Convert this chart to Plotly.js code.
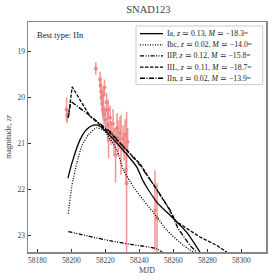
<!DOCTYPE html>
<html><head><meta charset="utf-8">
<script src="https://cdn.plot.ly/plotly-3.0.1.min.js"></script>
<style>html,body{margin:0;padding:0;background:#fff}#chart{width:280px;height:280px}</style>
</head><body><div id="chart"></div>
<script>
// Observations (MJD, zr magnitude, error)
const obsMJD = [58197.2,58197.5,58214.4,58216.9,58217.2,58217.5,58217.8,58218.1,58218.6,58218.9,58219.2,58219.5,58220.1,58220.7,58221.3,58221.6,58221.9,58222.8,58223.4,58224.5,58225.1,58226.0,58226.9,58227.5,58228.6,58229.2,58230.4,58231.0,58231.6,58232.2,58232.5,58233.1,58249.2,58250.4];
const obsMag = [20.27,20.40,19.38,19.62,19.75,19.88,20.01,20.14,20.27,19.95,20.38,19.79,20.49,20.12,20.60,20.27,20.93,20.45,20.78,20.58,20.97,21.26,20.67,20.89,20.78,21.04,20.91,21.08,20.82,21.58,21.87,20.97,22.46,22.63];
const obsErr = [0.26,0.17,0.13,0.17,0.17,0.19,0.19,0.21,0.21,0.17,0.21,0.17,0.26,0.21,0.30,0.21,0.40,0.26,0.26,0.32,0.30,0.60,0.32,0.38,0.34,0.65,0.30,0.30,0.34,0.32,1.55,0.30,0.87,0.76];

// Model curves
const iaMJD  = [58198.0,58200.2,58205.1,58209.1,58213.0,58216.9,58222.8,58230.4,58238.5,58242.2,58250.2,58259.8,58267.9,58275.7];
const iaMag  = [21.76,21.45,20.93,20.70,20.61,20.63,20.84,21.15,21.52,21.82,22.28,22.63,22.94,23.37];
const ibcMJD = [58198.2,58200.2,58203.2,58206.1,58210.0,58214.9,58219.2,58226.7,58230.6,58236.5,58242.4,58250.2,58256.1,58265.9,58271.8];
const ibcMag = [22.53,21.95,21.44,21.07,20.82,20.67,20.73,21.15,21.58,21.95,22.24,22.60,22.89,23.22,23.37];
const iipMJD = [58198.2,58210.0,58222.8,58235.0,58250.0,58253.5];
const iipMag = [22.92,23.02,23.12,23.20,23.29,23.37];
const iilMJD = [58198.2,58200.5,58211.0,58222.8,58240.4,58250.2,58256.1,58261.6,58275.7,58285.5,58291.4];
const iilMag = [20.45,19.78,20.42,20.78,21.45,22.00,22.35,22.70,23.04,23.22,23.37];
const iinMJD = [58198.2,58199.6,58210.0,58222.8,58240.4,58250.2,58258.0,58262.7,58269.7,58273.8];
const iinMag = [20.45,20.09,20.38,20.75,21.48,22.00,22.45,22.85,23.22,23.37];

// Tick labels
const xTickVals = [58180,58200,58220,58240,58260,58280,58300];
const xTickText = ['58180','58200','58220','58240','58260','58280','58300'];
const yTickVals = [19,20,21,22,23];
const yTickText = ['19','20','21','22','23'];

// Legend labels and line styles
const legendNames = [
  'Ia, <i>z</i> ≃ 0.13, <i>M</i> ≃ −18.3ᵐ',
  'Ibc, <i>z</i> ≃ 0.02, <i>M</i> ≃ −14.0ᵐ',
  'IIP, <i>z</i> ≃ 0.12, <i>M</i> ≃ −15.8ᵐ',
  'IIL, <i>z</i> ≃ 0.11, <i>M</i> ≃ −18.7ᵐ',
  'IIn, <i>z</i> ≃ 0.02, <i>M</i> ≃ −13.9ᵐ'
];
const dashes = ['solid', '1px,1.5px', '4px,1.5px,1px,1.5px,1px,1.5px', '3.5px,1.5px', '5px,1.5px,1px,1.5px'];
const shapesKind = ['spline', 'spline', 'spline', 'linear', 'linear'];

const red = 'rgba(240,128,128,0.85)';
const lineW = 1.3;
function model(x, y, i){
  return {x:x, y:y, name:legendNames[i], type:'scatter', mode:'lines', showlegend:false,
    line:{color:'#000', width:lineW, dash:dashes[i], shape:shapesKind[i], smoothing:0.6}};
}
const traces = [
  {x:obsMJD, y:obsMag, type:'scatter', mode:'markers', showlegend:false,
   marker:{color:red, size:4},
   error_y:{type:'data', array:obsErr, visible:true, color:red, thickness:1.5, width:0}},
  model(iaMJD, iaMag, 0),
  model(ibcMJD, ibcMag, 1),
  model(iipMJD, iipMag, 2),
  model(iilMJD, iilMag, 3),
  model(iinMJD, iinMag, 4)
];

// Legend box drawn in paper coordinates
const L = 28, B = 251.7, W = 238, H = 229;
const px = x => (x - L) / W;
const py = y => (B - y) / H;
const serif = 'Liberation Serif, Times New Roman, serif';
const shapes = [{type:'rect', xref:'paper', yref:'paper', x0:px(136), x1:px(262.7), y0:py(85), y1:py(26.7),
  line:{color:'#ccc', width:1}, fillcolor:'rgba(255,255,255,0.9)', layer:'above'}];
const annotations = [{xref:'paper', yref:'paper', x:0.03, y:0.975, xanchor:'left', yanchor:'top',
    text:'Best type: IIn', showarrow:false, font:{family:serif, size:8.5, color:'#222'}}];
legendNames.forEach((name, i) => {
  const yc = 34.3 + 11.1 * i;
  shapes.push({type:'line', xref:'paper', yref:'paper', x0:px(140), x1:px(163), y0:py(yc), y1:py(yc),
    line:{color:'#000', width:lineW, dash:dashes[i]}, layer:'above'});
  annotations.push({xref:'paper', yref:'paper', x:px(165), y:py(yc), xanchor:'left', yanchor:'middle',
    text:name, showarrow:false, font:{family:serif, size:7.8, color:'#222'}});
});

const axisCommon = {showgrid:false, zeroline:false, ticks:'inside', ticklen:3, tickcolor:'#333',
  showline:true, linecolor:'#888', linewidth:1.5, mirror:true,
  tickfont:{family:serif, size:7.5, color:'#444'}};
const layout = {
  width:280, height:280,
  margin:{l:28, r:14, t:22, b:28},
  paper_bgcolor:'#fff', plot_bgcolor:'#fff',
  font:{family:serif, color:'#222'},
  showlegend:false,
  title:{text:'SNAD123', font:{family:serif, size:10.5, color:'#444', weight:400}, x:0.53, xanchor:'center', y:0.965, yanchor:'middle'},
  xaxis:Object.assign({}, axisCommon, {range:[58174.5,58314.5], tickmode:'array', tickvals:xTickVals, ticktext:xTickText,
    title:{text:'MJD', font:{family:serif, size:8, color:'#444'}, standoff:4}}),
  yaxis:Object.assign({}, axisCommon, {range:[23.365,18.37], tickmode:'array', tickvals:yTickVals, ticktext:yTickText,
    title:{text:'magnitude, <i>zr</i>', font:{family:serif, size:8, color:'#444'}, standoff:4}}),
  shapes:shapes,
  annotations:annotations
};
Plotly.newPlot('chart', traces, layout, {staticPlot:true, displayModeBar:false});
</script></body></html>
